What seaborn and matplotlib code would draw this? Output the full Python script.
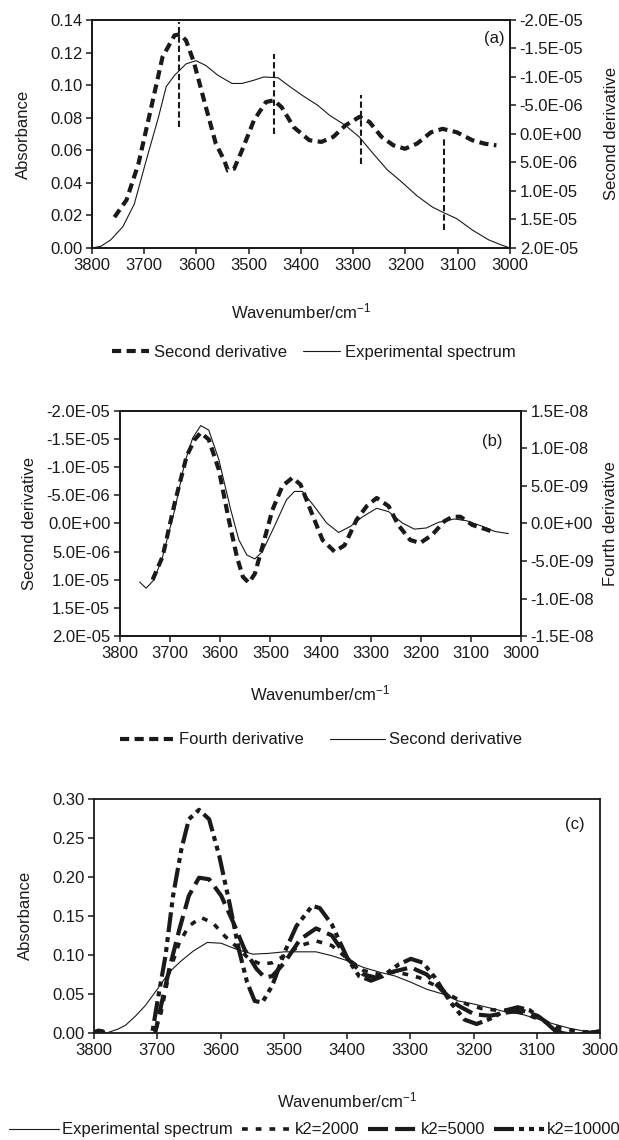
import matplotlib
matplotlib.use("Agg")
import matplotlib.pyplot as plt
from matplotlib.ticker import FixedLocator, FixedFormatter
import seaborn as sns

# ---------------- panel (a): spectrum and its second derivative ----------------
exp_a_wn = [3800, 3783, 3764, 3741, 3719, 3696, 3673, 3658, 3642, 3620,
            3601, 3582, 3559, 3532, 3513, 3490, 3471, 3444, 3421, 3399,
            3368, 3345, 3315, 3288, 3262, 3235, 3209, 3178, 3148, 3129,
            3102, 3072, 3041, 3018, 3000]
exp_a_abs = [0.000, 0.001, 0.005, 0.013, 0.027, 0.054, 0.080, 0.099, 0.106, 0.113,
             0.115, 0.112, 0.106, 0.101, 0.101, 0.103, 0.105, 0.1045, 0.099, 0.094,
             0.0876, 0.0814, 0.0753, 0.068, 0.058, 0.048, 0.041, 0.032, 0.025, 0.022,
             0.018, 0.011, 0.005, 0.002, 0.000]

d2_a_wn = [3757, 3734, 3711, 3688, 3665, 3642, 3631, 3620, 3605, 3582,
           3563, 3547, 3540, 3528, 3513, 3490, 3467, 3452, 3437, 3414,
           3384, 3361, 3338, 3315, 3288, 3269, 3246, 3223, 3201, 3178,
           3151, 3129, 3102, 3072, 3049, 3026]
d2_a_val = [14.6e-6, 11.6e-6, 5.2e-6, -4.1e-6, -13.5e-6, -17.3e-6, -17.5e-6, -16.4e-6, -12.6e-6, -4.7e-6,
            1.7e-6, 4.6e-6, 6.4e-6, 6.1e-6, 2.9e-6, -2.4e-6, -5.6e-6, -5.9e-6, -4.7e-6, -1.2e-6,
            1.1e-6, 1.4e-6, 0.5e-6, -1.5e-6, -3.0e-6, -2.1e-6, 0.5e-6, 2.0e-6, 2.6e-6, 1.7e-6,
            -0.3e-6, -0.9e-6, -0.3e-6, 1.1e-6, 1.7e-6, 2.0e-6]

# band positions marked by vertical dashed lines (left-axis extent)
band_wn = [3633, 3452, 3286, 3126]
band_low = [0.0743, 0.0702, 0.0514, 0.0110]
band_high = [0.1386, 0.1192, 0.0941, 0.0682]

# ---------------- panel (b): second vs fourth derivative ----------------
d2_b_wn = [3761, 3748, 3732, 3715, 3691, 3671, 3655, 3639, 3623, 3603,
           3579, 3563, 3547, 3531, 3516, 3492, 3468, 3452, 3436, 3412,
           3388, 3364, 3340, 3316, 3288, 3264, 3237, 3213, 3189, 3165,
           3133, 3109, 3077, 3053, 3025]
d2_b_val = [10.4e-6, 11.5e-6, 10.0e-6, 5.9e-6, -2.4e-6, -10.8e-6, -15.2e-6, -17.4e-6, -16.6e-6, -11.4e-6,
            -2.4e-6, 2.9e-6, 5.6e-6, 6.3e-6, 5.0e-6, 0.5e-6, -4.2e-6, -5.7e-6, -5.7e-6, -3.0e-6,
            -0.1e-6, 1.6e-6, 0.5e-6, -1.2e-6, -2.7e-6, -2.1e-6, -0.1e-6, 1.0e-6, 0.8e-6, -0.2e-6,
            -0.8e-6, -0.5e-6, 0.5e-6, 1.4e-6, 1.8e-6]

d4_b_wn = [3735, 3715, 3691, 3667, 3651, 3639, 3623, 3603, 3583, 3567,
           3555, 3543, 3531, 3516, 3496, 3476, 3456, 3440, 3420, 3396,
           3372, 3352, 3328, 3308, 3288, 3264, 3245, 3221, 3201, 3177,
           3153, 3137, 3121, 3097, 3069, 3057]
d4_b_val = [-7.5e-9, -4.4e-9, 2.7e-9, 9.0e-9, 11.2e-9, 12.1e-9, 11.2e-9, 7.2e-9, 0.5e-9, -4.4e-9,
            -7.1e-9, -7.9e-9, -6.7e-9, -3.1e-9, 1.8e-9, 5.0e-9, 6.1e-9, 5.2e-9, 1.8e-9, -2.2e-9,
            -3.75e-9, -2.9e-9, 0.5e-9, 2.3e-9, 3.4e-9, 2.3e-9, -0.2e-9, -2.2e-9, -2.6e-9, -1.5e-9,
            0.3e-9, 0.9e-9, 0.9e-9, -0.2e-9, -0.8e-9, -1.1e-9]

# ---------------- panel (c): resolution-enhanced spectra ----------------
exp_c_wn = [3780, 3762, 3750, 3734, 3719, 3700, 3681, 3662, 3643, 3621,
            3599, 3574, 3549, 3524, 3499, 3474, 3449, 3424, 3399, 3374,
            3349, 3324, 3299, 3274, 3249, 3224, 3199, 3174, 3149, 3124,
            3099, 3073, 3048, 3023, 3000]
exp_c_abs = [0.0, 0.005, 0.010, 0.022, 0.035, 0.056, 0.078, 0.0925, 0.105, 0.116,
             0.115, 0.107, 0.101, 0.102, 0.104, 0.104, 0.104, 0.099, 0.0925, 0.084,
             0.078, 0.073, 0.065, 0.056, 0.050, 0.041, 0.037, 0.032, 0.027, 0.024,
             0.018, 0.0115, 0.006, 0.002, 0.0]

k2000_wn = [3708, 3694, 3681, 3665, 3650, 3631, 3612, 3593, 3574, 3555,
            3536, 3518, 3499, 3474, 3449, 3424, 3399, 3374, 3349, 3324,
            3305, 3286, 3261, 3236, 3211, 3186, 3161, 3136, 3111, 3086,
            3061, 3036, 3011, 3000]
k2000_abs = [-0.01, 0.026, 0.078, 0.116, 0.137, 0.148, 0.141, 0.124, 0.110, 0.095,
             0.088, 0.090, 0.099, 0.112, 0.118, 0.112, 0.095, 0.080, 0.075, 0.078,
             0.075, 0.071, 0.061, 0.048, 0.037, 0.031, 0.029, 0.029, 0.022, 0.014,
             0.006, 0.002, 0.001, 0.002]

k5000_wn = [3706, 3694, 3681, 3665, 3650, 3634, 3618, 3599, 3580, 3562,
            3543, 3530, 3518, 3499, 3474, 3449, 3424, 3399, 3374, 3355,
            3330, 3299, 3274, 3249, 3224, 3199, 3174, 3149, 3124, 3099,
            3073, 3061, 3040, 3020, 3000]
k5000_abs = [-0.01, 0.035, 0.082, 0.133, 0.176, 0.199, 0.197, 0.176, 0.142, 0.107,
             0.082, 0.071, 0.073, 0.090, 0.120, 0.134, 0.125, 0.095, 0.075, 0.071,
             0.078, 0.084, 0.075, 0.054, 0.035, 0.024, 0.022, 0.026, 0.029, 0.022,
             0.007, 0.0, -0.003, 0.0, 0.002]

k10000_wn = [3800, 3793, 3786, 3776, 3710, 3700, 3687, 3675, 3662, 3650,
             3634, 3618, 3602, 3586, 3571, 3558, 3546, 3534, 3518, 3499,
             3480, 3455, 3443, 3424, 3399, 3381, 3362, 3343, 3318, 3299,
             3280, 3261, 3236, 3214, 3195, 3174, 3149, 3130, 3111, 3086,
             3067, 3045, 3020, 3000]
k10000_abs = [0.001, 0.003, 0.002, -0.02, -0.01, 0.039, 0.099, 0.176, 0.235, 0.274,
              0.286, 0.274, 0.227, 0.167, 0.107, 0.065, 0.041, 0.039, 0.061, 0.103,
              0.137, 0.163, 0.160, 0.139, 0.095, 0.073, 0.067, 0.073, 0.088, 0.095,
              0.090, 0.071, 0.039, 0.017, 0.0115, 0.018, 0.029, 0.033, 0.029, 0.014,
              0.0, -0.004, -0.001, 0.002]

# ---------------- axis ticks ----------------
wn_ticks = [3800, 3700, 3600, 3500, 3400, 3300, 3200, 3100, 3000]
abs_a_ticks = [0.00, 0.02, 0.04, 0.06, 0.08, 0.10, 0.12, 0.14]
abs_a_labels = ["0.00", "0.02", "0.04", "0.06", "0.08", "0.10", "0.12", "0.14"]
d2_ticks = [-2.0e-5, -1.5e-5, -1.0e-5, -5.0e-6, 0.0, 5.0e-6, 1.0e-5, 1.5e-5, 2.0e-5]
d2_labels = ["-2.0E-05", "-1.5E-05", "-1.0E-05", "-5.0E-06", "0.0E+00",
             "5.0E-06", "1.0E-05", "1.5E-05", "2.0E-05"]
d4_ticks = [-1.5e-8, -1.0e-8, -5.0e-9, 0.0, 5.0e-9, 1.0e-8, 1.5e-8]
d4_labels = ["-1.5E-08", "-1.0E-08", "-5.0E-09", "0.0E+00", "5.0E-09", "1.0E-08", "1.5E-08"]
abs_c_ticks = [0.00, 0.05, 0.10, 0.15, 0.20, 0.25, 0.30]
abs_c_labels = ["0.00", "0.05", "0.10", "0.15", "0.20", "0.25", "0.30"]

XLABEL = r"Wavenumber/cm$^{\mathregular{-1}}$"

sns.set_style("ticks")
plt.rcParams["font.family"] = ["Liberation Sans", "DejaVu Sans"]
plt.rcParams["mathtext.fontset"] = "custom"
plt.rcParams["mathtext.rm"] = "Liberation Sans"
plt.rcParams["mathtext.it"] = "Liberation Sans:italic"
plt.rcParams["mathtext.bf"] = "Liberation Sans:bold"

FS = 12
INK = "#1a1a1a"


def style_axes(ax):
    for sp in ax.spines.values():
        sp.set_visible(True)
        sp.set_color(INK)
        sp.set_linewidth(1.3)
    ax.tick_params(direction="out", length=4, width=1.1, colors=INK,
                   labelsize=FS, pad=3)


def set_y(ax, ticks, labels, lims):
    ax.set_ylim(*lims)
    ax.yaxis.set_major_locator(FixedLocator(ticks))
    ax.yaxis.set_major_formatter(FixedFormatter(labels))


def set_x(ax):
    ax.set_xlim(3800, 3000)
    ax.xaxis.set_major_locator(FixedLocator(wn_ticks))
    ax.xaxis.set_major_formatter(FixedFormatter([str(t) for t in wn_ticks]))


def trace(ax, x, y, lw, dashes=None, label=None):
    sns.lineplot(x=x, y=y, ax=ax, color=INK, linewidth=lw, sort=False,
                 estimator=None, legend=False)
    line = ax.lines[-1]
    if dashes is not None:
        line.set_dashes(dashes)
    line.set_dash_capstyle("butt")
    line.set_solid_joinstyle("round")
    if label is not None:
        line.set_label(label)
    return line


fig = plt.figure(figsize=(6.19, 11.40), dpi=100)
fig.patch.set_facecolor("white")

# ---- (a) ----
ax_a = fig.add_axes([0.1486, 0.7825, 0.6753, 0.2])
ax_a2 = ax_a.twinx()
l_exp_a = trace(ax_a, exp_a_wn, exp_a_abs, 0.8, label="Experimental spectrum")
ax_a.vlines(band_wn, band_low, band_high, colors=INK, linewidth=1.5,
            linestyles=(0, (3, 1.5)))
l_d2_a = trace(ax_a2, d2_a_wn, d2_a_val, 3.0, dashes=(2.2, 1.3), label="Second derivative")
set_x(ax_a)
set_y(ax_a, abs_a_ticks, abs_a_labels, (0.0, 0.14))
set_y(ax_a2, d2_ticks, d2_labels, (2.0e-5, -2.0e-5))
for ax in (ax_a, ax_a2):
    style_axes(ax)
ax_a.set_xlabel(XLABEL, fontsize=FS, color=INK)
ax_a.set_ylabel("Absorbance", fontsize=FS, color=INK)
ax_a2.set_ylabel("Second derivative", fontsize=FS, color=INK)
ax_a.xaxis.set_label_coords(0.5, -0.237)
ax_a.yaxis.set_label_coords(-0.147, 0.5)
ax_a2.yaxis.set_label_coords(1.226, 0.5)
ax_a.text(0.988, 0.92, "(a)", transform=ax_a.transAxes, ha="right", va="center",
          fontsize=FS, color=INK)
fig.legend(handles=[l_d2_a, l_exp_a], loc="center", bbox_to_anchor=(0.507, 0.6912),
           ncol=2, frameon=False, fontsize=FS, handlelength=2.2, handletextpad=0.3,
           columnspacing=1.0, labelcolor=INK)

# ---- (b) ----
ax_b = fig.add_axes([0.1939, 0.4421, 0.6478, 0.1974])
ax_b2 = ax_b.twinx()
l_d2_b = trace(ax_b, d2_b_wn, d2_b_val, 0.8, label="Second derivative")
l_d4_b = trace(ax_b2, d4_b_wn, d4_b_val, 3.0, dashes=(2.2, 1.3), label="Fourth derivative")
set_x(ax_b)
set_y(ax_b, d2_ticks, d2_labels, (2.0e-5, -2.0e-5))
set_y(ax_b2, d4_ticks, d4_labels, (-1.5e-8, 1.5e-8))
for ax in (ax_b, ax_b2):
    style_axes(ax)
ax_b.set_xlabel(XLABEL, fontsize=FS, color=INK)
ax_b.set_ylabel("Second derivative", fontsize=FS, color=INK)
ax_b2.set_ylabel("Fourth derivative", fontsize=FS, color=INK)
ax_b.xaxis.set_label_coords(0.5, -0.213)
ax_b.yaxis.set_label_coords(-0.206, 0.5)
ax_b2.yaxis.set_label_coords(1.205, 0.5)
ax_b.text(0.953, 0.864, "(b)", transform=ax_b.transAxes, ha="right", va="center",
          fontsize=FS, color=INK)
fig.legend(handles=[l_d4_b, l_d2_b], loc="center", bbox_to_anchor=(0.519, 0.3509),
           ncol=2, frameon=False, fontsize=FS, handlelength=3.3, handletextpad=0.25,
           columnspacing=1.55, labelcolor=INK)

# ---- (c) ----
ax_c = fig.add_axes([0.1519, 0.0939, 0.8174, 0.2053])
l_exp_c = trace(ax_c, exp_c_wn, exp_c_abs, 0.8, label="Experimental spectrum")
l_k2 = trace(ax_c, k2000_wn, k2000_abs, 2.6, dashes=(1.6, 2.2), label="k2=2000")
l_k5 = trace(ax_c, k5000_wn, k5000_abs, 3.0, dashes=(4.8, 1.7), label="k2=5000")
l_k10 = trace(ax_c, k10000_wn, k10000_abs, 3.0,
              dashes=(4.8, 1.2, 1.2, 1.2, 1.2, 1.2), label="k2=10000")
set_x(ax_c)
set_y(ax_c, abs_c_ticks, abs_c_labels, (0.0, 0.30))
style_axes(ax_c)
ax_c.set_xlabel(XLABEL, fontsize=FS, color=INK)
ax_c.set_ylabel("Absorbance", fontsize=FS, color=INK)
ax_c.xaxis.set_label_coords(0.5, -0.244)
ax_c.yaxis.set_label_coords(-0.1215, 0.5)
ax_c.text(0.970, 0.889, "(c)", transform=ax_c.transAxes, ha="right", va="center",
          fontsize=FS, color=INK)
fig.legend(handles=[l_exp_c, l_k2, l_k5, l_k10], loc="center",
           bbox_to_anchor=(0.509, 0.0088), ncol=4, frameon=False, fontsize=FS,
           handlelength=3.0, handletextpad=0.2, columnspacing=0.5, labelcolor=INK)

fig.savefig("out.png", dpi=100, facecolor="white")
